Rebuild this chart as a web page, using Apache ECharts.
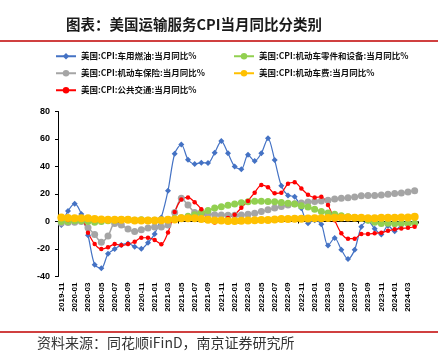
<!DOCTYPE html>
<html>
<head>
<meta charset="utf-8">
<script src="https://cdn.jsdelivr.net/npm/echarts@6/dist/echarts.min.js"></script>
<style>html,body{margin:0;padding:0;background:#fff;}#c{width:438px;height:358px;}</style>
</head>
<body>
<div id="c"></div>
<script>
const categories = ["2019-11","2019-12","2020-01","2020-02","2020-03","2020-04","2020-05","2020-06","2020-07","2020-08","2020-09","2020-10","2020-11","2020-12","2021-01","2021-02","2021-03","2021-04","2021-05","2021-06","2021-07","2021-08","2021-09","2021-10","2021-11","2021-12","2022-01","2022-02","2022-03","2022-04","2022-05","2022-06","2022-07","2022-08","2022-09","2022-10","2022-11","2022-12","2023-01","2023-02","2023-03","2023-04","2023-05","2023-06","2023-07","2023-08","2023-09","2023-10","2023-11","2023-12","2024-01","2024-02","2024-03","2024-04"];
const fuelName = "美国:CPI:车用燃油:当月同比%";
const partsName = "美国:CPI:机动车零件和设备:当月同比%";
const insName = "美国:CPI:机动车保险:当月同比%";
const feeName = "美国:CPI:机动车费:当月同比%";
const transitName = "美国:CPI:公共交通:当月同比%";
const fuel = [-2.5,7.6,13,5.5,-10,-31.5,-34,-23.5,-20,-17,-16,-18.3,-19.8,-15.5,-9,3,22.4,49.3,56,45,41.8,42.8,42.5,50,58.5,49.6,40,38,48.5,44,49.6,60.5,44.7,26,19,18,9.6,-1.3,1,-2,-17.5,-12,-20.5,-27.3,-20.5,-3.8,0.5,-5.3,-9.5,-3,-7,-2.5,-1,-1];
const parts = [0,0,0.5,0.5,0,-0.5,0,0.5,1,1.5,1.5,1,1.2,1,1,1,1.5,2,2.8,3.8,5,6.5,8,9.8,10.8,11.8,12.8,13.7,14.3,14.8,14.8,14.6,14.3,13.8,13.2,12.7,11.5,10.5,9,7.2,6.2,5.2,4.2,3.5,2.9,2.2,1,-0.5,-1.5,-1.2,-1.6,-1.4,-1.4,-1.3];
const insurance = [-1,-0.7,-0.5,0,-4.5,-9.5,-15,-10.5,-1.5,-2.5,-5.5,-7.3,-6,-4.8,-4,-4,-2.5,6.5,17,12,6.5,5.5,5.5,5,4.8,4.5,4.5,4.8,5.3,6,7.3,8.5,9.8,11,12,13,13.5,14.2,14.5,15,15.5,16.3,17,17.2,17.8,18.8,19,19,19.2,19.8,20.3,20.8,21.5,22.3];
const fees = [3,2.5,2.3,2.3,2.3,1.8,1.5,1.3,1.2,1.3,1.2,0.8,0.7,0.7,0.7,1,1.2,1.5,2.3,2.4,2.3,1.8,1.2,0.8,0.7,0.4,0.4,0.5,0.8,1,1.1,1.1,1.5,1.8,1.8,2,2,2.1,2.3,2.4,2.6,2.8,3,3,2.8,2.8,2.3,2.3,2.8,2.8,2.8,3,3,3.5];
const transit = [2.3,1.1,2.3,2.3,-8.1,-16.4,-20,-18.8,-16.4,-17.3,-16.4,-14.7,-11.8,-11.8,-13.5,-16.5,-8,7,16,17.5,14,9,1.5,-0.8,0,2.5,5,10,15,21,26.5,25,20.5,21,27.5,28.5,24,19.5,17.5,18,12,1,-8.6,-12.5,-12.5,-9.1,-9.1,-8.6,-8.1,-6.7,-5.7,-5,-4.6,-3.8];
const yTicks = {min: -40, max: 80, interval: 20};

const chart = echarts.init(document.getElementById('c'), null, {renderer: 'canvas'});
const cjk = '"Noto Sans CJK SC", sans-serif';
const num = '"Liberation Sans", Arial, sans-serif';
function lg(name, left, top) {
  return {data: [name], left: left, top: top, padding: 0, itemWidth: 20, itemHeight: 8,
    textStyle: {fontSize: 8.5, fontWeight: 'bold', color: '#111', fontFamily: cjk}};
}
function line(name, data, color, symbol, size, width) {
  return {name: name, type: 'line', data: data, xAxisIndex: 0, symbol: symbol, symbolSize: size,
    showSymbol: true, showAllSymbol: true,
    lineStyle: {color: color, width: width}, itemStyle: {color: color}, smooth: 0.3};
}
chart.setOption({
  animation: false,
  title: {text: '图表：美国运输服务CPI当月同比分类别', left: 61, top: 12,
    textStyle: {fontSize: 14.5, fontWeight: 'bold', color: '#1a1a1a', fontFamily: cjk}},
  legend: [lg(fuelName, 55, 52), lg(partsName, 233, 52), lg(insName, 55, 69), lg(feeName, 233, 69), lg(transitName, 55, 86)],
  grid: {left: 58, right: 20, top: 111.5, bottom: 81.5, containLabel: false},
  xAxis: [{
    type: 'category', data: categories, boundaryGap: true, position: 'bottom',
    axisLine: {show: false, onZero: false}, axisTick: {show: false},
    axisLabel: {interval: 1, rotate: 90, fontSize: 8, fontWeight: 'bold', color: '#000', margin: 6, fontFamily: num}
  }, {
    type: 'category', data: categories, boundaryGap: true, position: 'top',
    axisLine: {show: true, onZero: true, lineStyle: {color: '#000', width: 1}},
    axisTick: {show: true, inside: true, length: 2, lineStyle: {color: '#000'}},
    axisLabel: {show: false}, splitLine: {show: false}
  }],
  yAxis: {
    type: 'value', min: yTicks.min, max: yTicks.max, interval: yTicks.interval,
    axisLine: {show: true, lineStyle: {color: '#000', width: 1}},
    axisTick: {show: true, length: 3, lineStyle: {color: '#000'}},
    splitLine: {show: false},
    axisLabel: {fontSize: 9, fontWeight: 'bold', color: '#000', margin: 8, fontFamily: num}
  },
  series: [
    line(fuelName, fuel, '#4472C4', 'diamond', 6, 1.2),
    line(insName, insurance, '#A5A5A5', 'circle', 7, 1.5),
    line(partsName, parts, '#92D050', 'circle', 7, 1.5),
    line(transitName, transit, '#FF0000', 'circle', 4.5, 1.2),
    line(feeName, fees, '#FFC000', 'circle', 8, 1.5)
  ],
  graphic: [
    {type: 'line', shape: {x1: 0, y1: 41, x2: 438, y2: 41}, style: {stroke: '#C00000', lineWidth: 1.5}},
    {type: 'line', shape: {x1: 0, y1: 332, x2: 438, y2: 332}, style: {stroke: '#C00000', lineWidth: 1.5}},
    {type: 'text', left: 37, top: 336, style: {text: '资料来源：同花顺iFinD，南京证券研究所', fontSize: 14, fill: '#333', fontFamily: cjk}}
  ]
});
</script>
</body>
</html>
